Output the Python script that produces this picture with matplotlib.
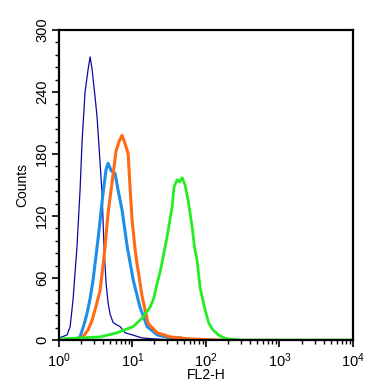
import numpy as np
import matplotlib
matplotlib.use('Agg')
import matplotlib.pyplot as plt
from matplotlib.ticker import MultipleLocator, LogLocator, NullFormatter

plt.rcParams['font.family'] = ['Liberation Sans', 'DejaVu Sans']
plt.rcParams['mathtext.default'] = 'regular'

# FL2-H channel value / counts
navy_x = [1.0, 1.11, 1.30, 1.43, 1.57, 1.77, 1.95, 2.08, 2.28, 2.51, 2.67, 2.84, 3.12, 3.32,
          3.53, 3.88, 4.13, 4.40, 4.69, 4.99, 5.48, 6.02, 6.82, 7.98, 9.94, 13.6, 20.4, 38.2]
navy_y = [2, 3, 5, 13, 40, 90, 145, 193, 240, 262, 274, 262, 235, 216,
          187, 142, 90, 55, 36, 25, 17, 15, 13, 7, 5, 2, 1, 0]

sky_x = [1.67, 1.95, 2.21, 2.43, 2.67, 2.93, 3.22, 3.53, 4.0, 4.40, 4.69, 5.15, 5.84, 6.41,
         7.25, 8.54, 10.3, 12.7, 15.9, 21.8, 32.6, 45.0, 60.0]
sky_y = [0, 3, 15, 26, 40, 58, 82, 106, 142, 165, 171, 164, 161, 145,
         126, 90, 58, 32, 13, 5, 2, 2, 0]

orange_x = [1.85, 2.14, 2.51, 2.84, 3.22, 3.65, 4.0, 4.26, 4.69, 5.30, 6.02, 6.60, 7.25, 7.98,
            8.79, 9.31, 9.94, 10.9, 11.6, 13.6, 16.4, 21.8, 32.6, 61.7, 156]
orange_y = [0, 3, 10, 19, 33, 48, 72, 90, 123, 152, 183, 192, 198, 190,
            180, 148, 116, 88, 74, 42, 16, 7, 3, 1, 0]

green_x = [1.0, 1.95, 3.65, 6.2, 10.3, 14.0, 17.5, 19.5, 21.8, 23.9, 26.2, 27.9, 29.7, 34.8,
           36.9, 40.6, 44.0, 47.5, 52.2, 57.4, 65.2, 70.0, 75.9, 83.2, 97.6, 110, 124,
           147, 177, 203, 290, 10000]
green_y = [1, 2, 3, 7, 13, 22, 32, 40, 55, 66, 80, 90, 100, 129,
           148, 155, 153, 157, 150, 135, 109, 90, 77, 51, 29, 16, 10,
           5, 2, 1, 0, 0]

fig = plt.figure(figsize=(3.85, 3.88), dpi=100)
ax = fig.add_axes([0.1525, 0.1237, 0.7645, 0.799])

ax.plot(navy_x, navy_y, color='#0A0AA6', lw=0.9)
ax.plot(sky_x, sky_y, color='#1E8FE6', lw=2.2)
ax.plot(orange_x, orange_y, color='#FF6A12', lw=2.2)
ax.plot(green_x, green_y, color='#22EE22', lw=2.0)

ax.set_xscale('log')
ax.set_xlim(1, 10000)
ax.set_ylim(0, 300)

ax.set_xticks([1, 10, 100, 1000, 10000])
ax.set_xticklabels(['$10^0$', '$10^1$', '$10^2$', '$10^3$', '$10^4$'], fontsize=10.5)
ax.xaxis.set_minor_locator(LogLocator(base=10, subs=np.arange(2, 10)))
ax.xaxis.set_minor_formatter(NullFormatter())

ax.set_yticks([0, 60, 120, 180, 240, 300])
ax.yaxis.set_minor_locator(MultipleLocator(12))
for lab in ax.get_yticklabels():
    lab.set_rotation(90)
    lab.set_va('center')
    lab.set_fontsize(10.5)

ax.tick_params(which='major', direction='out', length=5, width=1.2)
ax.tick_params(axis='x', which='major', pad=3)
ax.tick_params(axis='y', which='major', pad=2)
ax.tick_params(which='minor', direction='out', length=3, width=1.0)
for s in ax.spines.values():
    s.set_linewidth(1.6)

ax.set_xlabel('FL2-H', fontsize=10, labelpad=-1)
ax.set_ylabel('Counts', fontsize=10, labelpad=4)

fig.savefig('out.png', dpi=100)
